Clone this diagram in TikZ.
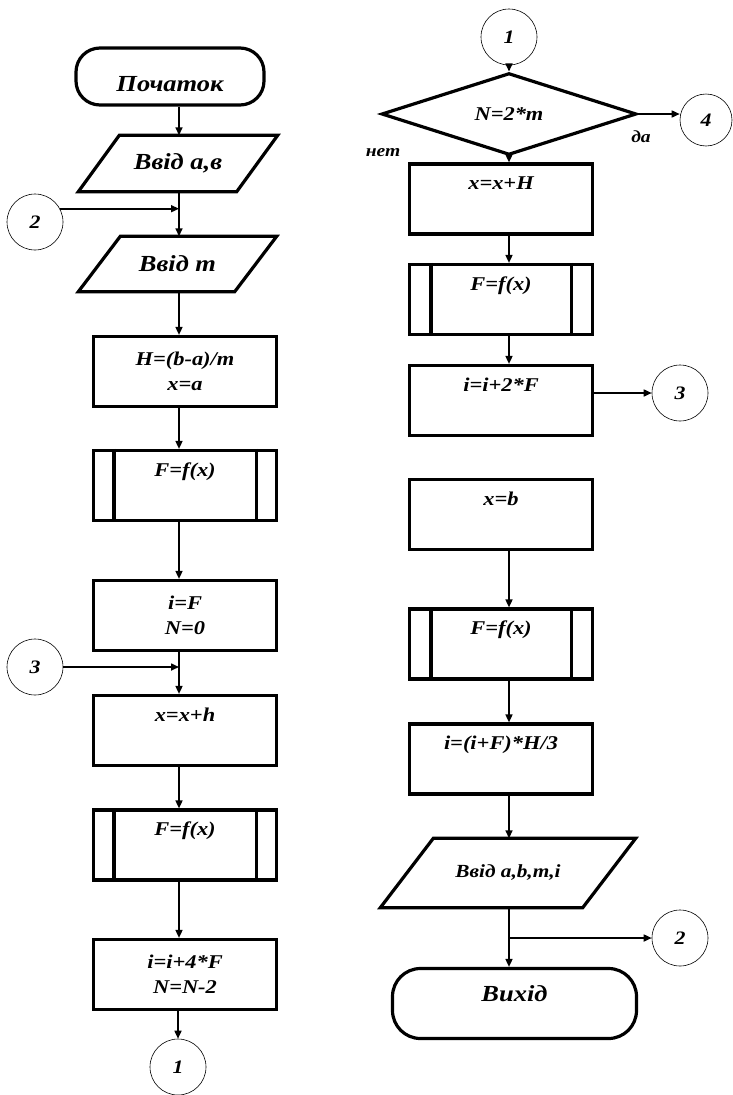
\documentclass[tikz,border=0pt]{standalone}
\usepackage{fontspec}
\setmainfont{Liberation Serif}
\newfontfamily\wideserif{Liberation Serif}[FakeStretch=1.15]
\usetikzlibrary{arrows.meta,shapes.geometric,calc}
\newcommand\parout[2]{\draw[boxline] ($(#1.north west)+(#2,0)$) -- (#1.north east) -- ($(#1.south east)-(#2,0)$) -- (#1.south west) -- cycle;}
\newcommand\predlines[2]{\draw[boxline] ($(#1.north west)+(#2,0)$) -- ($(#1.south west)+(#2,0)$);
  \draw[boxline] ($(#1.north east)-(#2,0)$) -- ($(#1.south east)-(#2,0)$);}
\begin{document}
\begin{tikzpicture}[x=1pt,y=-1pt,
  boxline/.style={line width=3.2pt, line join=miter},
  txt/.style={font=\wideserif\fontsize{19.5}{25}\selectfont\bfseries\itshape, align=center, inner sep=0pt},
  bigtxt/.style={font=\wideserif\fontsize{23}{25}\selectfont\bfseries\itshape, inner sep=0pt},
  smalltxt/.style={font=\wideserif\fontsize{17}{20}\selectfont\bfseries\itshape, inner sep=0pt},
  procbox/.style={draw, boxline, rectangle, minimum width=183pt, minimum height=70pt, inner sep=0pt, txt},
  termbox/.style={draw, boxline, rectangle, inner sep=0pt},
  parbox/.style={rectangle, inner sep=0pt, bigtxt},
  conn/.style={draw, circle, line width=0.6pt, minimum size=56pt, inner sep=0pt, font=\wideserif\fontsize{19}{20}\selectfont\bfseries\itshape},
  arr/.style={line width=1.6pt, -{Triangle[length=8pt,width=7pt]}}]
\fill[white] (0,0) rectangle (733,1095);
\useasboundingbox (0,0) rectangle (733,1095);
\coordinate (colL) at (179,0);
\coordinate (colR) at (509,0);
% ---------- left column ----------
\node[termbox, minimum width=188pt, minimum height=57pt, rounded corners=24pt] (t1) at (170,76.5) {};
\node[bigtxt] (t1txt) at ($(t1.center)+(0,8)$) {Початок};
\node[parbox, minimum width=199pt, minimum height=56pt] (p1) at (178,163.5) {Ввід а,в};
\parout{p1}{41}
\node[conn] (c2l) at (35,222) {2};
\node[parbox, minimum width=198pt, minimum height=55pt] (p2) at (177.5,264) {Ввід m};
\parout{p2}{42}
\node[procbox] (b1) at (185,371.5) {H=(b-a)/m\\x=a};
\node[procbox] (f1) at (185,485.5) {F=f(x)\\\strut};
\predlines{f1}{22}
\node[procbox] (b2) at (185,615.5) {i=F\\N=0};
\node[conn] (c3l) at (35,667) {3};
\node[procbox] (b3) at (185,730.5) {x=x+h\\\strut};
\node[procbox] (f2) at (185,845) {F=f(x)\\\strut};
\predlines{f2}{22}
\node[procbox] (b4) at (185,974.5) {i=i+4*F\\N=N-2};
\node[conn] (c1l) at (178,1067) {1};
% left connectors
\draw[arr] (t1.south -| colL) -- (p1.north -| colL);
\draw[arr] (p1.south -| colL) -- (p2.north -| colL);
\draw[arr] (c2l.28) -- (c2l.28 -| colL);
\draw[arr] (p2.south -| colL) -- (b1.north -| colL);
\draw[arr] (b1.south -| colL) -- (f1.north -| colL);
\draw[arr] (f1.south -| colL) -- (b2.north -| colL);
\draw[arr] (b2.south -| colL) -- (b3.north -| colL);
\draw[arr] (c3l.east) -- (c3l.east -| colL);
\draw[arr] (b3.south -| colL) -- (f2.north -| colL);
\draw[arr] (f2.south -| colL) -- (b4.north -| colL);
\draw[arr] (b4.south -| c1l) -- (c1l.north);
% ---------- right column ----------
\node[conn] (c1r) at (509,37) {1};
\node[draw, boxline, diamond, minimum width=255pt, minimum height=67pt, inner sep=0pt, txt] (dia) at (509,114) {N=2*m};
\node[conn, minimum size=52pt] (c4) at (706,120) {4};
\node[smalltxt] (da) at (641,137) {да};
\node[smalltxt] (net) at (383,153) {нет};
\node[procbox] (rb1) at (501,199) {x=x+H\\\strut};
\node[procbox] (rf1) at (501,299.5) {F=f(x)\\\strut};
\predlines{rf1}{23}
\node[procbox] (rb2) at (501,400.5) {i=i+2*F\\\strut};
\node[conn] (c3r) at (680,393) {3};
\node[procbox] (rb3) at (501,514.5) {x=b\\\strut};
\node[procbox] (rf2) at (501,644) {F=f(x)\\\strut};
\predlines{rf2}{23}
\node[procbox] (rb4) at (501,759) {i=(i+F)*H/3\\\strut};
\node[parbox, minimum width=255pt, minimum height=69pt, font=\wideserif\fontsize{18.5}{20}\selectfont\bfseries\itshape] (p3) at (508,873) {Ввід a,b,m,i};
\parout{p3}{53}
\node[conn] (c2r) at (680,938) {2};
\node[termbox, minimum width=244pt, minimum height=70pt, rounded corners=28pt] (t2) at (514.5,1003.5) {};
\node[bigtxt] (t2txt) at ($(t2.center)+(0,-10)$) {Вихід};
% right connectors
\draw[arr] (c1r.south) -- (dia.north);
\draw[arr] (dia.east) -- (dia.east -| c4.west);
\draw[arr] (dia.south) -- (rb1.north -| colR);
\draw[arr] (rb1.south -| colR) -- (rf1.north -| colR);
\draw[arr] (rf1.south -| colR) -- (rb2.north -| colR);
\draw[arr] (rb2.east |- c3r) -- (c3r.west);
\draw[arr] (rb3.south -| colR) -- (rf2.north -| colR);
\draw[arr] (rf2.south -| colR) -- (rb4.north -| colR);
\draw[arr] (rb4.south -| colR) -- (p3.north -| colR);
\draw[arr] (p3.south -| colR) -- (t2.north -| colR);
\draw[arr] (c2r.west -| colR) -- (c2r.west);
\end{tikzpicture}
\end{document}
